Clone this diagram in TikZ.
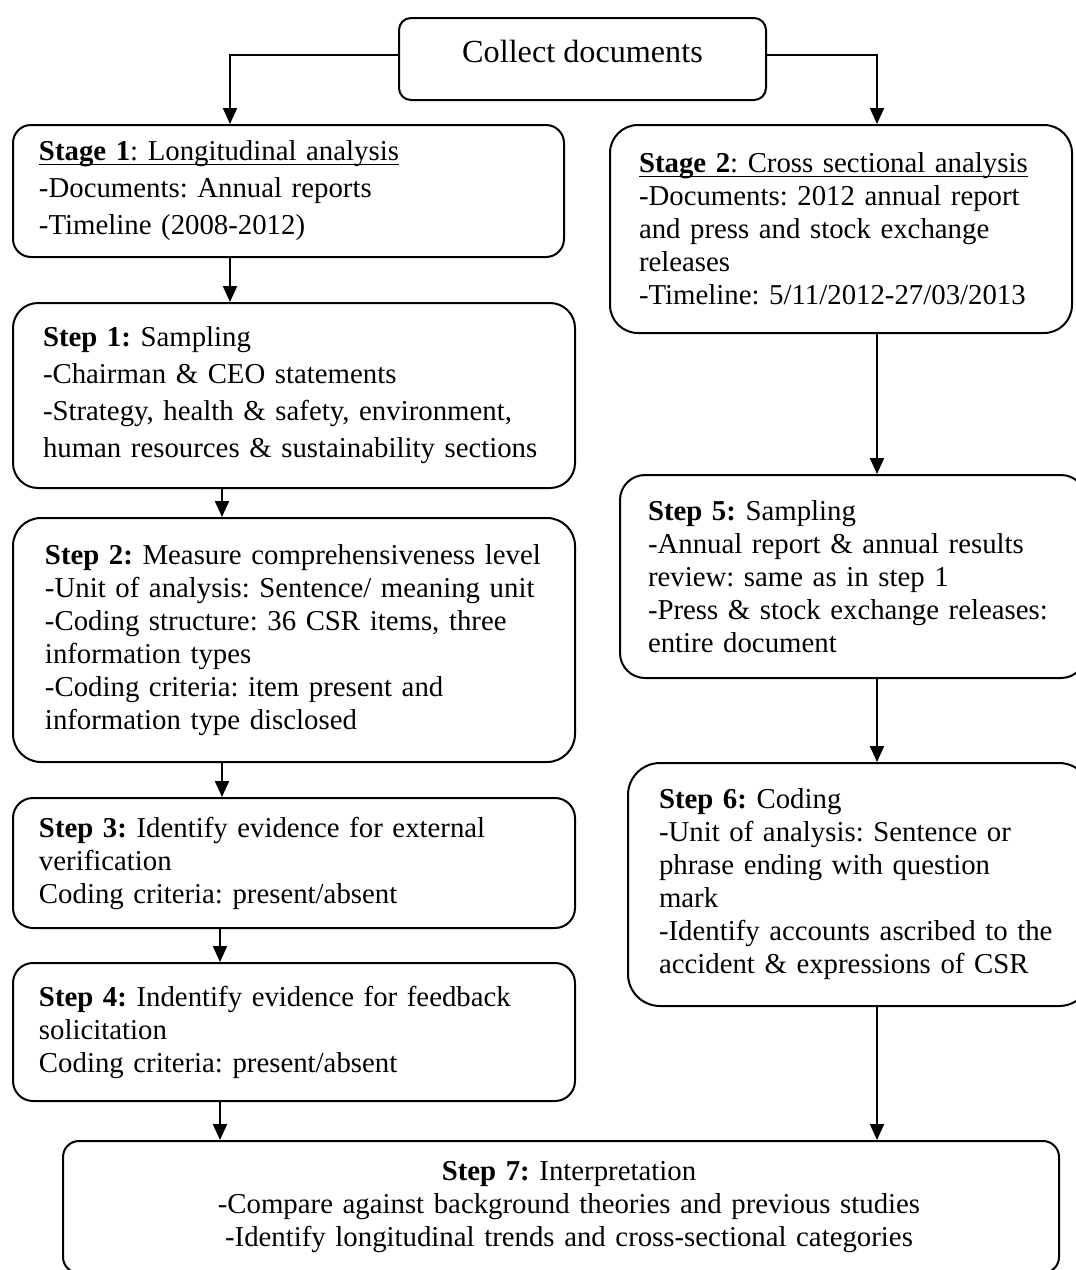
\documentclass[tikz,border=0pt]{standalone}
\usepackage{fontspec}
\setmainfont{Liberation Serif}
\usetikzlibrary{arrows.meta}
\frenchspacing
% one explicit line of a box, kept from breaking
\newcommand{\oneline}[1]{\mbox{#1}}
% underline sitting just below the baseline
\newcommand{\headline}[1]{\setbox0\hbox{#1}\rlap{\rule[-2.2pt]{\wd0}{0.7pt}}\box0}
\begin{document}
\begin{tikzpicture}[x=0.5pt,y=-0.5pt,
  flowbox/.style={draw, line width=1pt, anchor=north west, align=left,
    inner ysep=0pt, font=\fontsize{14.4}{16.5}\selectfont},
  widelines/.style={font=\fontsize{14.4}{18.5}\selectfont},
  arr/.style={line width=1pt, -{Triangle[length=8pt,width=7pt]}}]

\useasboundingbox (0,0) rectangle (1076,1270);
\clip (0,0) rectangle (1076,1270);

% columns used by the connectors
\coordinate (xa) at (230,0);
\coordinate (xb) at (222,0);
\coordinate (xc) at (220,0);
\coordinate (xr) at (877,0);

% top box
\node[draw, line width=1pt, anchor=north west, rounded corners=6pt,
  minimum width=183.5pt, minimum height=41pt, inner sep=0pt,
  font=\fontsize{16.1}{18}\selectfont] (collect) at (398,17)
  {\raisebox{4pt}[\height][\depth]{Collect documents}};

% left column: longitudinal analysis
\node[flowbox, widelines, rounded corners=9pt, minimum height=66pt,
  inner xsep=13pt, text width=249.5pt] (stage1) at (12,124)
  {\oneline{\headline{\textbf{Stage 1}: Longitudinal analysis}}\\
   \oneline{-Documents: Annual reports}\\
   \oneline{-Timeline (2008-2012)}};

\node[flowbox, widelines, rounded corners=12.5pt, minimum height=92.5pt,
  inner xsep=15pt, text width=251pt] (step1) at (12,302)
  {\oneline{\textbf{Step 1:} Sampling}\\
   \oneline{-Chairman \& CEO statements}\\
   \oneline{-Strategy, health \& safety, environment,}\\
   \oneline{human resources \& sustainability sections}};

\node[flowbox, rounded corners=14pt, minimum height=122pt,
  inner xsep=16pt, text width=249pt] (step2) at (12,517)
  {\oneline{\textbf{Step 2:} Measure comprehensiveness level}\\
   \oneline{-Unit of analysis: Sentence/ meaning unit}\\
   \oneline{-Coding structure: 36 CSR items, three}\\
   \oneline{information types}\\
   \oneline{-Coding criteria: item present and}\\
   \oneline{information type disclosed}};

\node[flowbox, rounded corners=10pt, minimum height=65pt,
  inner xsep=13pt, text width=255pt] (step3) at (12,797)
  {\oneline{\textbf{Step 3:} Identify evidence for external}\\
   \oneline{verification}\\
   \oneline{Coding criteria: present/absent}};

\node[flowbox, rounded corners=10pt, minimum height=69pt,
  inner xsep=13pt, text width=255pt] (step4) at (12,962)
  {\oneline{\textbf{Step 4:} Indentify evidence for feedback}\\
   \oneline{solicitation}\\
   \oneline{Coding criteria: present/absent}};

% right column: cross sectional analysis
\node[flowbox, rounded corners=14pt, minimum height=104pt,
  inner xsep=14.5pt, text width=202pt] (stage2) at (609,124)
  {\oneline{\headline{\textbf{Stage 2}: Cross sectional analysis}}\\
   \oneline{-Documents: 2012 annual report}\\
   \oneline{and press and stock exchange}\\
   \oneline{releases}\\
   \oneline{-Timeline: 5/11/2012-27/03/2013}};

\node[flowbox, rounded corners=12.5pt, minimum height=101.5pt,
  inner xsep=14pt, text width=205pt] (step5) at (619,474)
  {\oneline{\textbf{Step 5:} Sampling}\\
   \oneline{-Annual report \& annual results}\\
   \oneline{review: same as in step 1}\\
   \oneline{-Press \& stock exchange releases:}\\
   \oneline{entire document}};

\node[flowbox, rounded corners=16pt, minimum height=121.5pt,
  inner xsep=15.5pt, text width=200.5pt] (step6) at (627,762)
  {\oneline{\textbf{Step 6:} Coding}\\
   \oneline{-Unit of analysis: Sentence or}\\
   \oneline{phrase ending with question}\\
   \oneline{mark}\\
   \oneline{-Identify accounts ascribed to the}\\
   \oneline{accident \& expressions of CSR}};

% bottom box
\node[flowbox, align=center, rounded corners=8pt,
  minimum height=66pt, inner xsep=15pt, text width=468pt] (step7) at (62,1140)
  {\hspace*{8pt}\oneline{\textbf{Step 7:} Interpretation}\\
   \hspace*{8pt}\oneline{-Compare against background theories and previous studies}\\
   \hspace*{8pt}\oneline{-Identify longitudinal trends and cross-sectional categories}};

% connectors
\draw[arr] ([yshift=2pt]collect.west) -| (stage1.north -| xa);
\draw[arr] ([yshift=2pt]collect.east) -| (stage2.north -| xr);
\draw[arr] (stage1.south -| xa) -- (step1.north -| xa);
\draw[arr] (step1.south -| xb) -- (step2.north -| xb);
\draw[arr] (step2.south -| xb) -- (step3.north -| xb);
\draw[arr] (step3.south -| xc) -- (step4.north -| xc);
\draw[arr] (step4.south -| xc) -- (step7.north -| xc);
\draw[arr] (stage2.south -| xr) -- (step5.north -| xr);
\draw[arr] (step5.south -| xr) -- (step6.north -| xr);
\draw[arr] (step6.south -| xr) -- (step7.north -| xr);
\end{tikzpicture}
\end{document}
